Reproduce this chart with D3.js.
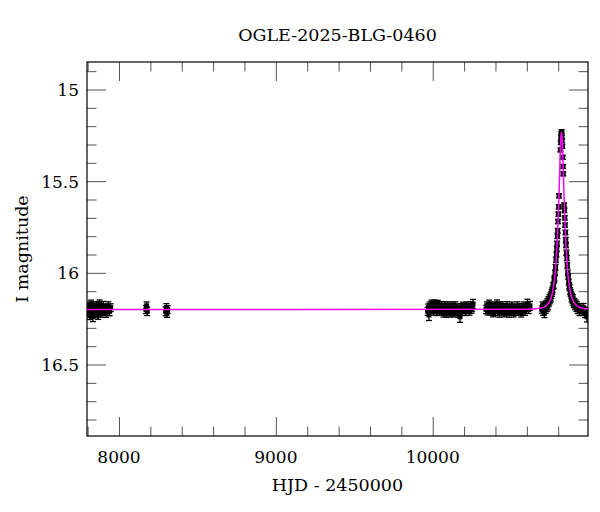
<!doctype html>
<html lang="en">
<head>
<meta charset="utf-8">
<title>OGLE-2025-BLG-0460</title>
<script src="https://cdn.jsdelivr.net/npm/d3@7"></script>
<style>
  body { margin: 0; background: #fff; }
  svg text { font-family: "DejaVu Serif", serif; fill: #000; }
</style>
</head>
<body>
<div id="chart"></div>
<script>
// photometry: [HJD - 2450000, I mag, error]
var season2017 = [
  [7801,16.21,.022],[7804,16.19,.020],[7806,16.22,.024],[7809,16.18,.021],[7811,16.20,.023],
  [7814,16.23,.025],[7816,16.19,.020],[7819,16.21,.022],[7822,16.17,.021],[7825,16.20,.024],
  [7828,16.22,.022],[7831,16.19,.020],[7834,16.24,.026],[7837,16.20,.021],[7840,16.18,.022],
  [7843,16.21,.023],[7846,16.19,.020],[7850,16.22,.025],[7853,16.20,.021],[7856,16.18,.022],
  [7860,16.21,.020],[7864,16.19,.023],[7868,16.23,.024],[7872,16.20,.021],[7876,16.17,.022],
  [7880,16.21,.020],[7885,16.19,.023],[7890,16.22,.022],[7895,16.20,.021],[7900,16.18,.024],
  [7906,16.21,.022],[7912,16.19,.020],[7918,16.22,.023],[7925,16.20,.021],[7932,16.18,.022],
  [7940,16.21,.024],[7947,16.19,.021]
];
var season2018 = [
  [8172,16.20,.022],[8176,16.18,.021],[8180,16.21,.023],
  [8298,16.21,.024],[8302,16.19,.022],[8306,16.22,.023],[8310,16.20,.021]
];
var season2023 = [
  [9968,16.21,.022],[9972,16.19,.020],[9976,16.23,.030],[9980,16.18,.021],[9984,16.20,.020],
  [9988,16.19,.022],[9992,16.17,.021],[9996,16.20,.020],[10000,16.18,.022],[10004,16.21,.021],
  [10008,16.19,.020],[10012,16.17,.022],[10016,16.20,.021],[10020,16.18,.020],[10024,16.21,.023],
  [10028,16.19,.021],[10032,16.17,.020],[10036,16.20,.022],[10040,16.18,.021],[10044,16.21,.020],
  [10048,16.19,.022],[10052,16.20,.021],[10056,16.18,.023],[10060,16.21,.020],[10064,16.19,.022],
  [10068,16.22,.021],[10072,16.20,.020],[10076,16.18,.022],[10080,16.21,.021],[10084,16.19,.020],
  [10088,16.22,.023],[10092,16.20,.021],[10096,16.18,.022],[10100,16.21,.020],[10105,16.19,.022],
  [10110,16.22,.021],[10115,16.20,.020],[10120,16.18,.022],[10125,16.21,.021],[10130,16.19,.023],
  [10135,16.22,.021],[10140,16.20,.020],[10145,16.18,.022],[10150,16.21,.021],[10156,16.19,.020],
  [10162,16.22,.022],[10168,16.20,.021],[10174,16.24,.030],[10180,16.19,.022],[10186,16.21,.021],
  [10192,16.18,.020],[10198,16.20,.022],[10204,16.19,.021],[10210,16.21,.023],[10216,16.18,.021],
  [10222,16.20,.020],[10228,16.19,.022],[10234,16.21,.021],[10240,16.18,.023],[10246,16.20,.021],
  [10252,16.19,.022],[10257,16.17,.025]
];
var season2024 = [
  [10340,16.20,.022],[10345,16.18,.021],[10350,16.21,.020],[10355,16.19,.022],[10360,16.17,.021],
  [10365,16.20,.023],[10370,16.18,.020],[10375,16.21,.022],[10380,16.19,.021],[10385,16.22,.020],
  [10390,16.20,.022],[10395,16.18,.021],[10400,16.21,.023],[10405,16.19,.020],[10410,16.17,.022],
  [10415,16.20,.021],[10420,16.18,.020],[10425,16.22,.022],[10430,16.20,.021],[10435,16.19,.023],
  [10440,16.21,.020],[10445,16.18,.022],[10450,16.20,.021],[10456,16.22,.020],[10462,16.19,.022],
  [10468,16.21,.021],[10474,16.18,.023],[10480,16.20,.021],[10486,16.22,.022],[10492,16.19,.020],
  [10498,16.21,.022],[10504,16.18,.021],[10510,16.20,.023],[10516,16.22,.021],[10522,16.19,.020],
  [10528,16.21,.022],[10534,16.20,.021],[10540,16.18,.022],[10548,16.21,.020],[10556,16.19,.022],
  [10564,16.22,.021],[10572,16.20,.023],[10580,16.18,.021],[10588,16.21,.022],[10596,16.19,.020],
  [10604,16.17,.026],[10612,16.20,.022],[10620,16.18,.024]
];
var season2025 = [
  [10696,16.20,.020],[10700,16.18,.021],[10704,16.21,.022],[10708,16.19,.020],[10712,16.22,.024],
  [10716,16.18,.020],[10720,16.20,.021],[10724,16.17,.020],[10728,16.19,.021],[10732,16.16,.020],
  [10735,16.18,.022],[10738,16.15,.020],[10741,16.16,.021],[10744,16.14,.020],[10747,16.15,.019],
  [10750,16.13,.020],[10753,16.14,.019],[10756,16.12,.019],[10759,16.11,.018],[10762,16.10,.018],
  [10765,16.09,.018],[10768,16.07,.017],[10771,16.07,.017],[10774,16.04,.016],[10777,16.03,.016],
  [10780,16.00,.015],[10783,15.97,.015],[10786,15.93,.014],[10789,15.90,.014],[10791,15.87,.013],
  [10793,15.84,.013],[10795,15.80,.013],[10797,15.77,.012],[10799,15.72,.012],[10801,15.68,.012],
  [10803,15.64,.012],[10805,15.58,.011],
  [10814,15.33,.010],[10816,15.29,.010],[10818,15.26,.010],[10820,15.24,.010],[10821,15.25,.010],
  [10822,15.23,.010],[10823,15.26,.010],[10825,15.28,.010],[10827,15.31,.010],[10829,15.37,.011],
  [10831,15.42,.011],[10832,15.46,.011],
  [10838,15.63,.011],[10840,15.66,.012],[10842,15.70,.012],[10844,15.74,.012],[10846,15.78,.013],
  [10848,15.82,.013],[10850,15.85,.013],[10852,15.89,.014],[10855,15.92,.014],[10858,15.96,.015],
  [10861,16.00,.015],[10864,16.02,.016],[10867,16.05,.016],[10870,16.07,.017],[10873,16.08,.017],
  [10876,16.10,.018],[10879,16.11,.018],[10882,16.12,.018],[10885,16.14,.019],[10888,16.13,.019],
  [10891,16.15,.019],[10894,16.14,.020],[10897,16.16,.020],[10900,16.17,.020],[10904,16.16,.020],
  [10908,16.18,.021],[10912,16.17,.021],[10916,16.19,.021],[10920,16.18,.022],[10925,16.20,.022],
  [10930,16.19,.022],[10936,16.21,.023],[10942,16.19,.022],[10948,16.20,.023],[10955,16.21,.022],
  [10962,16.19,.023],[10970,16.22,.024],[10978,16.21,.023],[10984,16.24,.028],[10988,16.22,.024]
];

// model light curve
var modelHjd = [7796, 10600, 10672, 10701, 10721, 10731, 10741, 10751, 10756, 10761, 10766, 10771,
  10776, 10781, 10786, 10791, 10796, 10801, 10806, 10811, 10815, 10818, 10821, 10824, 10827,
  10831, 10836, 10841, 10846, 10851, 10856, 10861, 10866, 10871, 10876, 10881, 10886, 10891,
  10901, 10911, 10921, 10941, 10970, 10990];
var modelMag = [16.200, 16.199, 16.195, 16.190, 16.181, 16.173, 16.162, 16.145, 16.132, 16.117, 16.097, 16.071,
  16.039, 15.997, 15.942, 15.873, 15.784, 15.674, 15.544, 15.404, 15.304, 15.253, 15.234, 15.253, 15.304,
  15.404, 15.544, 15.674, 15.784, 15.873, 15.942, 15.997, 16.039, 16.071, 16.097, 16.117, 16.132, 16.145,
  16.162, 16.173, 16.181, 16.190, 16.195, 16.197];

var xMajor = [8000, 9000, 10000];
var yMajor = [15, 15.5, 16, 16.5];

var width = 600, height = 512;
var plotL = 87, plotR = 588, plotT = 62, plotB = 436;

var x = d3.scaleLinear().domain([7796, 10990]).range([plotL, plotR]);
var y = d3.scaleLinear().domain([14.85, 16.89]).range([plotT, plotB]);

var xMinor = d3.range(7800, 10990, 200).filter(function (v) { return xMajor.indexOf(v) < 0; });
var yMinor = d3.range(14.9, 16.89, 0.1).map(function (v) { return +v.toFixed(1); })
  .filter(function (v) { return yMajor.indexOf(v) < 0; });

var svg = d3.select("#chart").append("svg")
  .attr("width", width)
  .attr("height", height);

svg.append("defs").append("clipPath").attr("id", "plot")
  .append("rect").attr("x", plotL).attr("y", plotT)
  .attr("width", plotR - plotL).attr("height", plotB - plotT);

// ticks on all four sides, pointing inwards
function tickSide(axis, vals, size, transform) {
  var g = svg.append("g")
    .attr("transform", transform)
    .call(axis.tickValues(vals).tickSize(size).tickFormat(""));
  g.select(".domain").remove();
  g.selectAll(".tick line").attr("stroke", "#555");
  return g;
}
tickSide(d3.axisBottom(x), xMinor, -9.5, "translate(0," + plotB + ")");
tickSide(d3.axisBottom(x), xMajor, -19, "translate(0," + plotB + ")");
tickSide(d3.axisTop(x), xMinor, -9.5, "translate(0," + plotT + ")");
tickSide(d3.axisTop(x), xMajor, -19, "translate(0," + plotT + ")");
tickSide(d3.axisLeft(y), yMinor, -9.5, "translate(" + plotL + ",0)");
tickSide(d3.axisLeft(y), yMajor, -19, "translate(" + plotL + ",0)");
tickSide(d3.axisRight(y), yMinor, -9.5, "translate(" + plotR + ",0)");
tickSide(d3.axisRight(y), yMajor, -19, "translate(" + plotR + ",0)");

// tick labels
svg.append("g").selectAll("text")
  .data(xMajor).enter().append("text")
  .attr("x", function (d) { return x(d); })
  .attr("y", 463)
  .attr("text-anchor", "middle")
  .style("font-size", "17px")
  .text(function (d) { return d; });

svg.append("g").selectAll("text")
  .data(yMajor).enter().append("text")
  .attr("x", 79)
  .attr("y", function (d) { return y(d) + 6.5; })
  .attr("text-anchor", "end")
  .style("font-size", "17px")
  .text(function (d) { return d; });

// frame
svg.append("rect")
  .attr("x", plotL).attr("y", plotT)
  .attr("width", plotR - plotL).attr("height", plotB - plotT)
  .attr("fill", "none").attr("stroke", "#000").attr("stroke-width", 1.2);

// data points with error bars
var obs = [].concat(season2017, season2018, season2023, season2024, season2025);
var pts = svg.append("g").attr("clip-path", "url(#plot)");
var pt = pts.selectAll("g").data(obs).enter().append("g");
pt.append("line")
  .attr("x1", function (d) { return x(d[0]); })
  .attr("x2", function (d) { return x(d[0]); })
  .attr("y1", function (d) { return y(d[1] - d[2]); })
  .attr("y2", function (d) { return y(d[1] + d[2]); })
  .attr("stroke", "#000").attr("stroke-width", 1.3);
pt.append("line")
  .attr("x1", function (d) { return x(d[0]) - 3; })
  .attr("x2", function (d) { return x(d[0]) + 3; })
  .attr("y1", function (d) { return y(d[1] - d[2]); })
  .attr("y2", function (d) { return y(d[1] - d[2]); })
  .attr("stroke", "#000").attr("stroke-width", 1.3);
pt.append("line")
  .attr("x1", function (d) { return x(d[0]) - 3; })
  .attr("x2", function (d) { return x(d[0]) + 3; })
  .attr("y1", function (d) { return y(d[1] + d[2]); })
  .attr("y2", function (d) { return y(d[1] + d[2]); })
  .attr("stroke", "#000").attr("stroke-width", 1.3);
pt.append("rect")
  .attr("x", function (d) { return x(d[0]) - 2.5; })
  .attr("y", function (d) { return y(d[1]) - 2.5; })
  .attr("width", 5).attr("height", 5)
  .attr("fill", "#000");

// model
var line = d3.line()
  .x(function (d, i) { return x(modelHjd[i]); })
  .y(function (d) { return y(d); })
  .curve(d3.curveMonotoneX);
svg.append("path")
  .attr("clip-path", "url(#plot)")
  .attr("d", line(modelMag))
  .attr("fill", "none")
  .attr("stroke", "#ff00ff")
  .attr("stroke-width", 1.5);

// titles
svg.append("text")
  .attr("x", (plotL + plotR) / 2).attr("y", 40.5)
  .attr("text-anchor", "middle")
  .style("font-size", "17.5px")
  .text("OGLE-2025-BLG-0460");

svg.append("text")
  .attr("x", (plotL + plotR) / 2).attr("y", 491)
  .attr("text-anchor", "middle")
  .style("font-size", "17.5px")
  .text("HJD - 2450000");

svg.append("text")
  .attr("transform", "translate(28," + ((plotT + plotB) / 2) + ") rotate(-90)")
  .attr("text-anchor", "middle")
  .style("font-size", "17.5px")
  .text("I magnitude");
</script>
</body>
</html>
